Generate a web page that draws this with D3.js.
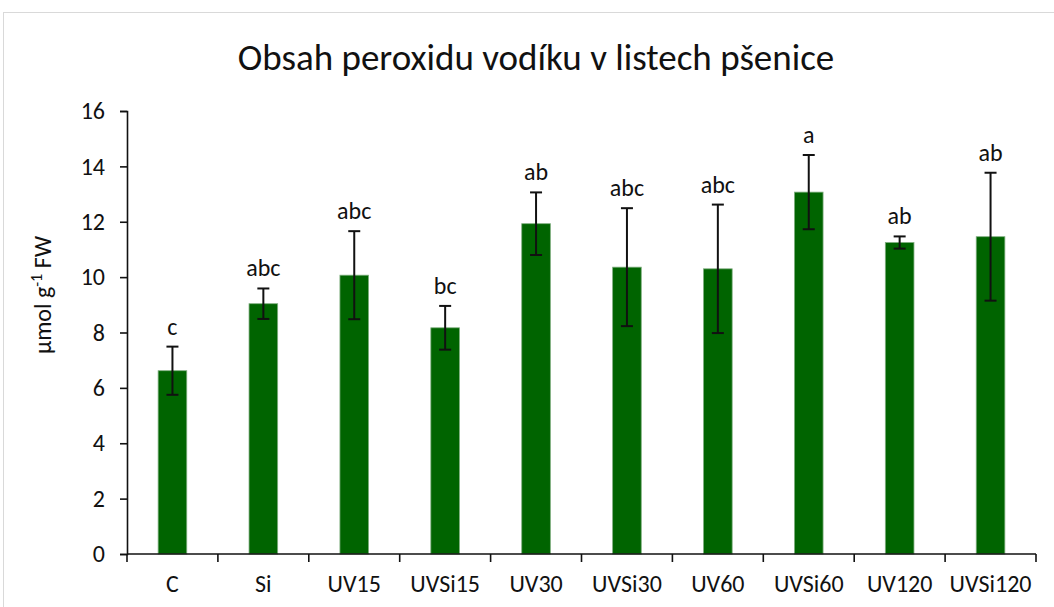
<!DOCTYPE html>
<html>
<head>
<meta charset="utf-8">
<script src="https://cdn.jsdelivr.net/npm/d3@7"></script>
<style>
  body { margin: 0; background: #fff; }
  text { font-family: Calibri, Carlito, "Open Sans", sans-serif; fill: #111; }
</style>
</head>
<body>
<svg id="chart"></svg>
<script>
// data
const categories = ["C", "Si", "UV15", "UVSi15", "UV30", "UVSi30", "UV60", "UVSi60", "UV120", "UVSi120"];
const values = [6.62, 9.04, 10.07, 8.17, 11.93, 10.36, 10.30, 13.07, 11.25, 11.46];
const errors = [0.87, 0.55, 1.59, 0.79, 1.13, 2.13, 2.32, 1.34, 0.22, 2.31];
const letters = ["c", "abc", "abc", "bc", "ab", "abc", "abc", "a", "ab", "ab"];
const yTicks = [0, 2, 4, 6, 8, 10, 12, 14, 16];

let svg = d3.select("#chart")
    .attr("width", 1054)
    .attr("height", 607);

// chart area border
svg.append("rect")
    .attr("x", 3.5).attr("y", 12.5)
    .attr("width", 1060).attr("height", 610)
    .attr("fill", "none")
    .attr("stroke", "#d9d9d9");

let margin = { left: 127, right: 1036, top: 111, bottom: 554 };

let x = d3.scaleBand()
    .domain(categories)
    .range([margin.left, margin.right]);

let y = d3.scaleLinear()
    .domain([0, 16])
    .range([margin.bottom, margin.top]);

// title
svg.append("text")
    .attr("x", 536)
    .attr("y", 70)
    .attr("text-anchor", "middle")
    .style("font-size", "37px")
    .text("Obsah peroxidu vodíku v listech pšenice");

// bars
let barW = x.step() * 0.315;
svg.append("g").selectAll("rect")
    .data(values)
    .enter().append("rect")
    .attr("x", (d, i) => x(categories[i]) + x.step() / 2 - barW / 2)
    .attr("y", d => y(d))
    .attr("width", barW)
    .attr("height", d => y(0) - y(d))
    .attr("fill", "#006400")
    .attr("stroke", "#7fae7f")
    .attr("stroke-width", 0.8);

// error bars
let eb = svg.append("g")
    .attr("stroke", "#111")
    .attr("stroke-width", 2);

values.forEach(function (v, i) {
    let cx = x(categories[i]) + x.step() / 2;
    let top = y(v + errors[i]), bot = y(v - errors[i]);
    eb.append("line").attr("x1", cx).attr("x2", cx).attr("y1", top).attr("y2", bot);
    eb.append("line").attr("x1", cx - 6).attr("x2", cx + 6).attr("y1", top).attr("y2", top);
    eb.append("line").attr("x1", cx - 6).attr("x2", cx + 6).attr("y1", bot).attr("y2", bot);
});

// significance letters
svg.append("g").selectAll("text")
    .data(letters)
    .enter().append("text")
    .attr("x", (d, i) => x(categories[i]) + x.step() / 2)
    .attr("y", (d, i) => y(values[i] + errors[i]) - 12)
    .attr("text-anchor", "middle")
    .style("font-size", "24px")
    .text(d => d);

// y axis
let yAxis = svg.append("g")
    .attr("transform", "translate(" + margin.left + ",0)")
    .call(d3.axisLeft(y).tickValues(yTicks).tickSize(7).tickPadding(15).tickFormat(d3.format("d")));
yAxis.selectAll("text").style("font-size", "24px").attr("fill", "#111");
yAxis.selectAll("line, path").attr("stroke", "#111").attr("stroke-width", 1.6);

// x axis, ticks on band boundaries
let xAxis = svg.append("g")
    .attr("transform", "translate(0," + margin.bottom + ")");
xAxis.append("line")
    .attr("x1", margin.left).attr("x2", margin.right)
    .attr("stroke", "#111").attr("stroke-width", 1.6);
xAxis.selectAll(".tk")
    .data(categories.concat(["end"]))
    .enter().append("line")
    .attr("class", "tk")
    .attr("x1", (d, i) => margin.left + i * x.step())
    .attr("x2", (d, i) => margin.left + i * x.step())
    .attr("y1", 0).attr("y2", 8)
    .attr("stroke", "#111").attr("stroke-width", 1.6);
xAxis.selectAll(".lbl")
    .data(categories)
    .enter().append("text")
    .attr("class", "lbl")
    .attr("x", d => x(d) + x.step() / 2)
    .attr("y", 38)
    .attr("text-anchor", "middle")
    .style("font-size", "24px")
    .text(d => d);

// y label
let yl = svg.append("text")
    .attr("transform", "translate(51,295) rotate(-90)")
    .attr("text-anchor", "middle")
    .style("font-size", "24px");
yl.append("tspan").text("µmol g");
yl.append("tspan").attr("dy", -9).style("font-size", "16px").text("-1");
yl.append("tspan").attr("dy", 9).text(" FW");
</script>
</body>
</html>
